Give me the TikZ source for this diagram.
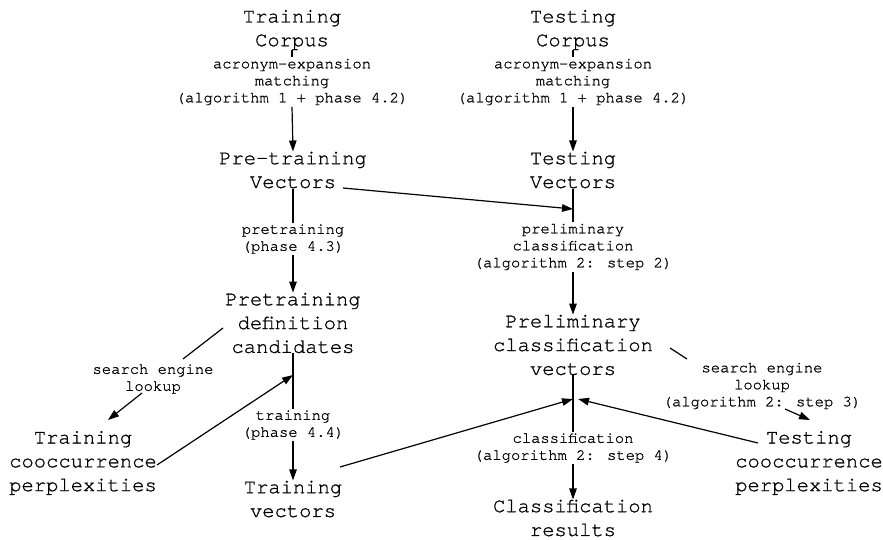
\documentclass[tikz,border=0pt]{standalone}
\usepackage{fontspec}
\newfontfamily\courfont[FakeBold=0.9]{TeX Gyre Cursor}
\usetikzlibrary{arrows.meta}
\begin{document}
\begin{tikzpicture}[x=1pt,y=-1pt,
  big/.style={font=\courfont\fontsize{20.5}{23.8}\selectfont, align=center, inner sep=0pt},
  lbl/.style={font=\courfont\fontsize{15.5}{17}\selectfont, align=center, inner sep=1.5pt},
  wire/.style={line width=1.2pt},
  arr/.style={line width=1.2pt, -{Triangle[length=11pt,width=7.5pt]}}]
\useasboundingbox (0,0) rectangle (883,540);

% left column
\node[big] (tc)   at (292,30)  {Training\\Corpus};
\node[lbl] (lab1) at (292,82)  {acronym-expansion\\matching\\(algorithm 1 + phase 4.2)};
\node[big] (pv)   at (293,170) {Pre-training\\Vectors};
\node[lbl] (lab3) at (293,239) {pretraining\\(phase 4.3)};
\node[big] (pdc)  at (293,323) {Pretraining\\definition\\candidates};
\node[lbl] (lab5) at (153,379) {search engine\\lookup};
\node[big] (tcp)  at (83,463)  {Training\\cooccurrence\\perplexities};
\node[lbl] (lab6) at (293,425) {training\\(phase 4.4)};
\node[big] (tvec) at (293,499) {Training\\vectors};

% right column
\node[big] (ts)   at (573,30)  {Testing\\Corpus};
\node[lbl] (lab2) at (573,82)  {acronym-expansion\\matching\\(algorithm 1 + phase 4.2)};
\node[big] (tv)   at (573,170) {Testing\\Vectors};
\node[lbl] (lab4) at (573,247) {preliminary\\classification\\(algorithm 2: step 2)};
\node[big] (pcv)  at (573,345) {Preliminary\\classification\\vectors};
\node[lbl] (lab7) at (573,448) {classification\\(algorithm 2: step 4)};
\node[big] (cr)   at (573,518) {Classification\\results};
\node[lbl] (lab8) at (762,386) {search engine\\lookup\\(algorithm 2: step 3)};
\node[big] (tecp) at (809,463) {Testing\\cooccurrence\\perplexities};

% junctions on the vertical flows
\coordinate (j1) at (573,209);
\coordinate (j2) at (293,375);
\coordinate (j3) at (573,399);

% ends of the slanted connectors
\coordinate (pvR)   at (343,188);
\coordinate (pdcL)  at (223,328);
\coordinate (l5a)   at (183,359);
\coordinate (l5b)   at (142,393);
\coordinate (tcpIn) at (108,420);
\coordinate (tcpR)  at (157,465);
\coordinate (tvecR) at (340,467);
\coordinate (j3r)   at (578,399);
\coordinate (tecpL) at (758,443);
\coordinate (pcvR)  at (670,348);
\coordinate (l8a)   at (687,359);
\coordinate (l8b)   at (785,409);
\coordinate (tecpIn) at (810,420);

% vertical flows
\draw[wire] (tc.south) -- (lab1.north);
\draw[arr]  (lab1.south) -- (pv.north);
\draw[wire] (ts.south) -- (lab2.north);
\draw[arr]  (lab2.south) -- (tv.north);
\draw[wire] (pv.south) -- (lab3.north);
\draw[arr]  (lab3.south) -- (pdc.north);
\draw[wire] (tv.south) -- (lab4.north);
\draw[arr]  (lab4.south) -- (pcv.north);
\draw[wire] (pdc.south) -- (lab6.north);
\draw[arr]  (lab6.south) -- (tvec.north);
\draw[wire] (pcv.south) -- (lab7.north);
\draw[arr]  (lab7.south) -- (cr.north);

% cross connections
\draw[arr]  (pvR) -- (j1);
\draw[wire] (pdcL) -- (l5a);
\draw[arr]  (l5b) -- (tcpIn);
\draw[arr]  (tcpR) -- (j2);
\draw[arr]  (tvecR) -- (j3);
\draw[arr]  (tecpL) -- (j3r);
\draw[wire] (pcvR) -- (l8a);
\draw[arr]  (l8b) -- (tecpIn);
\end{tikzpicture}
\end{document}
